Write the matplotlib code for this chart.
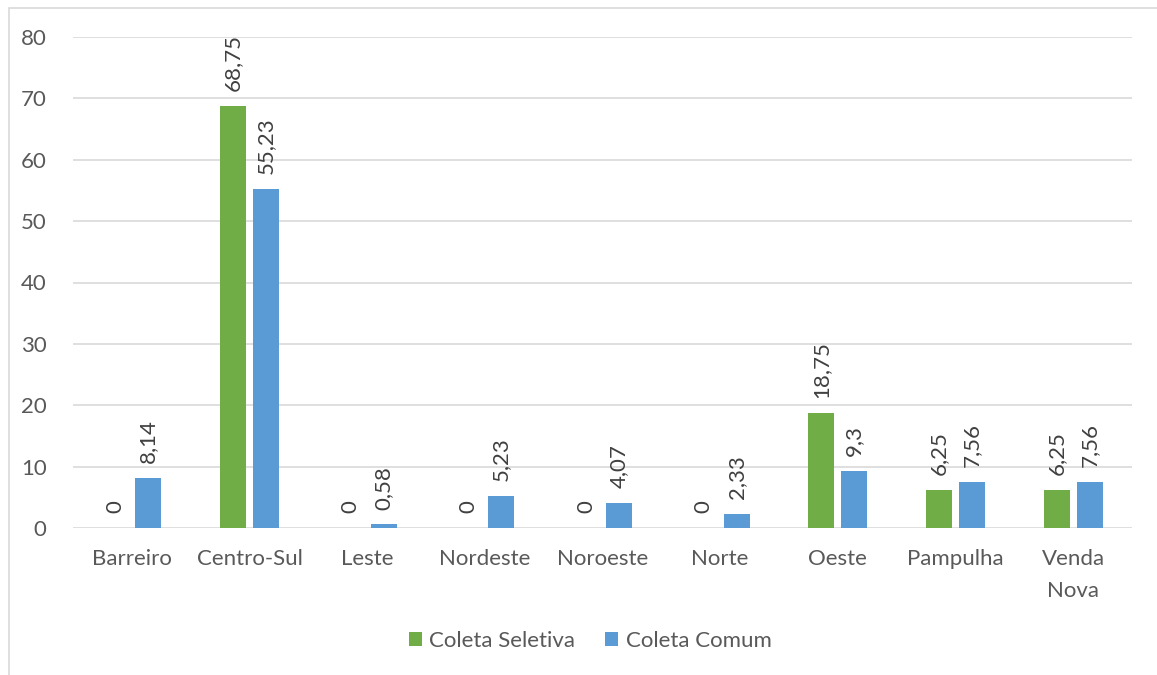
import matplotlib
matplotlib.use("Agg")
import matplotlib.pyplot as plt
from matplotlib.patches import Rectangle
import numpy as np

regioes = ["Barreiro", "Centro-Sul", "Leste", "Nordeste", "Noroeste",
           "Norte", "Oeste", "Pampulha", "Venda\nNova"]
coleta_seletiva = [0, 68.75, 0, 0, 0, 0, 18.75, 6.25, 6.25]
coleta_comum = [8.14, 55.23, 0.58, 5.23, 4.07, 2.33, 9.3, 7.56, 7.56]
rotulos_seletiva = ["0", "68,75", "0", "0", "0", "0", "18,75", "6,25", "6,25"]
rotulos_comum = ["8,14", "55,23", "0,58", "5,23", "4,07", "2,33", "9,3", "7,56", "7,56"]
y_ticks = [0, 10, 20, 30, 40, 50, 60, 70, 80]

verde = "#70ad47"
azul = "#5b9bd5"
texto = "#595959"
grade = "#d9d9d9"

plt.rcParams["font.family"] = ["Lato", "DejaVu Sans"]

fig = plt.figure(figsize=(11.57, 6.75), dpi=100)
ax = fig.add_axes([73 / 1157, 1 - 528 / 675, (1132 - 73) / 1157, (528 - 37) / 675])

# chart frame
fig.patches.append(Rectangle((9 / 1157, -0.01), 1.1, 1 - 8 / 675 + 0.01,
                             transform=fig.transFigure, fill=False,
                             edgecolor=grade, linewidth=1.2, zorder=0))

x = np.arange(len(regioes))
w = 0.22
off = 0.14
b1 = ax.bar(x - off, coleta_seletiva, w, color=verde, label="Coleta Seletiva", zorder=3)
b2 = ax.bar(x + off, coleta_comum, w, color=azul, label="Coleta Comum", zorder=3)

for bars, labels in ((b1, rotulos_seletiva), (b2, rotulos_comum)):
    for bar, lab in zip(bars, labels):
        ax.annotate(lab, (bar.get_x() + bar.get_width() / 2, bar.get_height()),
                    xytext=(0, 10.5), textcoords="offset points",
                    rotation=90, ha="center", va="bottom",
                    fontsize=16, color="#404040")

ax.set_xlim(-0.5, len(regioes) - 0.5)
ax.set_ylim(0, 80)
ax.set_yticks(y_ticks)
ax.set_xticks(x)
ax.set_xticklabels(regioes, fontsize=16, color=texto, linespacing=1.75)
ax.tick_params(axis="y", labelsize=16, labelcolor=texto, length=0, pad=19)
ax.tick_params(axis="x", length=0, pad=15)
ax.grid(axis="y", color=grade, linewidth=1.2, zorder=0)
for s in ax.spines.values():
    s.set_visible(False)

ax.legend(loc="center", bbox_to_anchor=(590 / 1157, 1 - 641 / 675),
          bbox_transform=fig.transFigure, ncol=2, frameon=False,
          fontsize=16, labelcolor=texto, handlelength=0.6, handleheight=0.6,
          handletextpad=0.32, columnspacing=1.35)

fig.savefig("out.png", dpi=100)
